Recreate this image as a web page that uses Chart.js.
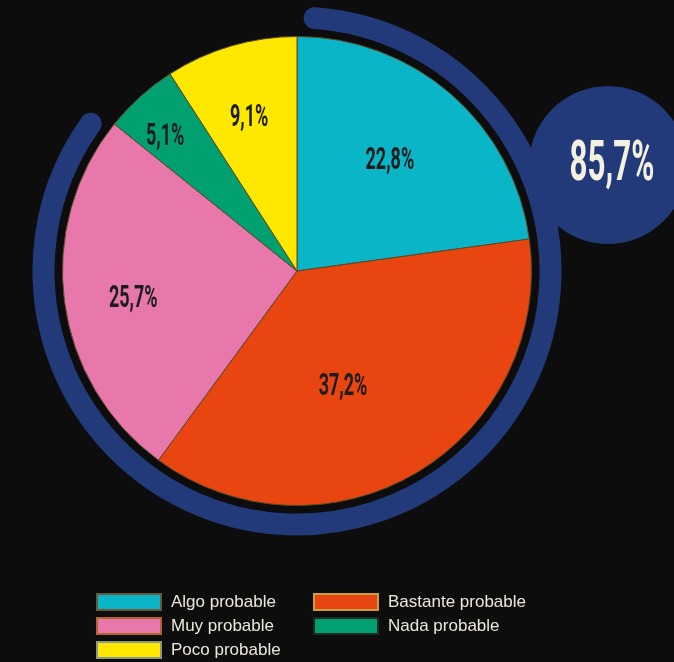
<!DOCTYPE html>
<html>
<head>
<meta charset="utf-8">
<script src="https://cdn.jsdelivr.net/npm/chart.js@4/dist/chart.umd.min.js"></script>
<style>
  html, body { margin: 0; padding: 0; background: #0d0d0d; }
  #wrap { position: relative; width: 674px; height: 662px; }
  #legend { position: absolute; left: 0; top: 0; width: 674px; height: 662px; pointer-events: none; }
  .item { position: absolute; font-family: "Liberation Sans", Arial, sans-serif; font-size: 17px; color: #ebe7dc; white-space: nowrap; }
  .box { position: absolute; width: 62px; height: 14px; border: 2px solid #555; }
  .lbl { position: absolute; left: 75px; top: -1px; }
</style>
</head>
<body>
<div id="wrap">
  <canvas id="one" width="674" height="662"></canvas>
  <div id="legend"></div>
</div>
<script>
// data
var labels = ['Algo probable', 'Bastante probable', 'Muy probable', 'Nada probable', 'Poco probable'];
var values = [22.8, 37.2, 25.7, 5.1, 9.1];
var colors = ['#0ab5c8', '#e84511', '#e878ab', '#00a070', '#ffe800'];
var legendBorders = ['#6b5a3a', '#c8a040', '#b0652a', '#1c2a22', '#8a9a8a'];
var highlight = '85,7%';

// label position relative to the pie center, in radius units
var labelX = [0.396, 0.196, -0.698, -0.562, -0.204];
var labelY = [-0.481, 0.485, 0.106, -0.583, -0.664];

function fmt(v){
    return v.toFixed(1).replace('.', ',') + '%';
}

var ringPlugin = {
    id: 'ring',
    beforeDatasetsDraw: function(chart){
        var arc = chart.getDatasetMeta(0).data[0];
        var ctx = chart.ctx;
        var cx = arc.x, cy = arc.y, r = arc.outerRadius;
        var deg = Math.PI / 180;

        ctx.save();
        ctx.strokeStyle = '#233a7a';
        ctx.fillStyle = '#233a7a';
        ctx.lineWidth = 22;
        ctx.lineCap = 'round';
        ctx.beginPath();
        ctx.arc(cx, cy, r + 19, -Math.PI / 2 + 4 * deg, -Math.PI / 2 + 305.5 * deg);
        ctx.stroke();

        // big bubble
        ctx.beginPath();
        ctx.arc(cx + 311, cy - 106, 79, 0, Math.PI * 2);
        ctx.fill();
        ctx.restore();
    },
    afterDatasetsDraw: function(chart){
        var meta = chart.getDatasetMeta(0);
        var ctx = chart.ctx;
        var cx = meta.data[0].x, cy = meta.data[0].y, r = meta.data[0].outerRadius;

        ctx.save();
        ctx.textAlign = 'center';
        ctx.textBaseline = 'middle';
        ctx.fillStyle = '#1c1c1c';
        ctx.font = 'bold 31px Roboto';
        for(var i=0; i<values.length; i++){
            ctx.save();
            ctx.translate(cx + labelX[i] * r, cy + labelY[i] * r + 3);
            ctx.scale(0.58, 1);
            ctx.fillText(fmt(values[i]), 0, 0);
            ctx.restore();
        }

        ctx.fillStyle = '#f5f1e0';
        ctx.font = 'bold 56px Roboto';
        ctx.translate(cx + 315, cy - 105);
        ctx.scale(0.56, 1);
        ctx.fillText(highlight, 0, 0);
        ctx.restore();
    }
};

var ctx = document.getElementById('one').getContext('2d');
var myChart = new Chart(ctx, {
    type: 'pie',
    data: {
        labels: labels,
        datasets: [{
            data: values,
            backgroundColor: colors,
            borderColor: '#5a4a25',
            borderWidth: 1
        }]
    },
    options: {
        responsive: false,
        animation: false,
        layout: { padding: { left: 62, right: 142, top: 36, bottom: 156 } },
        plugins: {
            legend: { display: false },
            tooltip: { enabled: false }
        }
    },
    plugins: [ringPlugin]
});

// legend, two columns filled row by row
var legend = document.getElementById('legend');
var colX = [96, 313];
for(var i=0; i<labels.length; i++){
    var item = document.createElement('div');
    item.className = 'item';
    item.style.left = colX[i % 2] + 'px';
    item.style.top = (593 + Math.floor(i / 2) * 24) + 'px';
    var box = document.createElement('div');
    box.className = 'box';
    box.style.background = colors[i];
    box.style.borderColor = legendBorders[i];
    var lbl = document.createElement('div');
    lbl.className = 'lbl';
    lbl.textContent = labels[i];
    item.appendChild(box);
    item.appendChild(lbl);
    legend.appendChild(item);
}
</script>
</body>
</html>
